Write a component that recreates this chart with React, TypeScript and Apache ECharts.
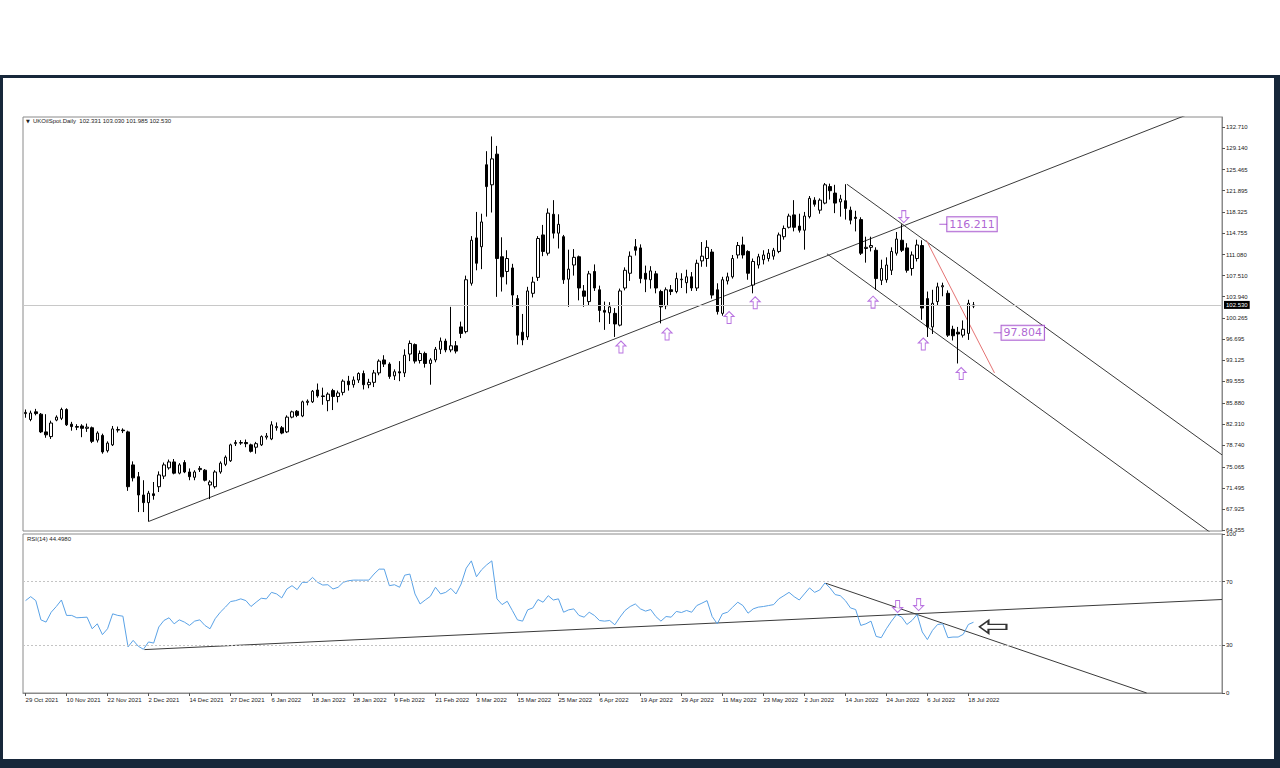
import React, { useEffect, useRef } from 'react';
import * as echarts from 'echarts';

// ---------- data ----------
const START_DATE = '2021-10-29';
const SKIPPED_DATES = ['2021-12-24', '2022-04-15'];
const FUTURE_SLOTS = 48;
const DATE_LABEL_STEP = 8;
const MONTHS = ['Jan', 'Feb', 'Mar', 'Apr', 'May', 'Jun', 'Jul', 'Aug', 'Sep', 'Oct', 'Nov', 'Dec'];

// open, close, low, high
const CANDLES: [number, number, number, number][] = [
  [84.1, 84.3, 83.4, 84.8], [83.1, 84.2, 82.8, 84.6], [84.4, 84.1, 83.8, 84.9], [84.0, 81.0, 80.8, 84.2],
  [81.0, 80.5, 80.0, 84.0], [80.2, 82.5, 79.8, 82.9], [83.0, 83.5, 82.8, 83.8], [83.3, 84.8, 83.0, 85.1],
  [84.8, 82.2, 82.0, 85.0], [82.3, 81.9, 81.2, 82.7], [81.9, 81.8, 81.3, 82.3], [82.0, 81.6, 80.1, 82.3],
  [81.6, 81.8, 81.0, 82.4], [81.7, 79.4, 79.1, 81.9], [79.6, 80.8, 79.2, 81.1], [80.4, 77.6, 77.3, 80.7],
  [77.8, 79.1, 77.5, 79.4], [78.8, 81.5, 78.6, 82.0], [81.3, 81.4, 80.9, 81.9], [81.3, 81.2, 80.8, 81.6],
  [81.0, 71.7, 71.0, 81.2], [75.4, 73.2, 72.6, 76.0], [73.4, 70.3, 67.4, 74.2], [70.3, 69.0, 67.4, 72.8],
  [69.0, 70.6, 65.8, 71.0], [70.5, 70.2, 69.5, 72.5], [71.7, 73.7, 70.8, 74.3], [73.5, 75.4, 73.0, 75.8],
  [74.9, 75.9, 74.6, 76.3], [75.9, 74.0, 73.8, 76.4], [74.0, 75.4, 73.8, 75.7], [75.8, 74.2, 74.0, 76.2],
  [74.2, 73.4, 72.8, 74.8], [73.3, 74.2, 72.8, 74.5], [74.6, 74.8, 74.2, 75.2], [74.5, 72.8, 72.6, 74.7],
  [72.0, 72.5, 69.6, 72.8], [71.7, 74.2, 71.4, 74.5], [74.2, 75.7, 73.9, 76.0], [75.5, 76.7, 75.2, 77.0],
  [76.1, 78.8, 75.9, 79.0], [79.0, 79.2, 78.6, 79.6], [79.1, 79.2, 78.8, 79.6], [79.2, 79.0, 78.4, 79.7],
  [78.8, 77.7, 77.5, 79.0], [78.4, 79.0, 77.3, 79.3], [78.8, 80.2, 78.6, 80.4], [80.1, 80.3, 79.7, 80.8],
  [79.8, 82.2, 79.6, 82.8], [81.7, 81.9, 81.2, 82.6], [81.7, 80.8, 80.6, 82.0], [81.0, 83.5, 80.8, 83.8],
  [83.5, 84.4, 83.3, 84.6], [84.5, 83.8, 83.5, 84.7], [83.7, 86.1, 83.5, 86.3], [86.0, 86.2, 85.5, 86.5],
  [86.1, 87.9, 85.9, 88.1], [88.1, 87.1, 86.8, 89.2], [87.1, 87.0, 85.6, 88.5], [86.3, 87.4, 84.5, 87.7],
  [88.0, 87.0, 84.7, 88.3], [87.0, 87.6, 86.0, 88.0], [87.7, 89.6, 87.2, 89.9], [89.6, 89.0, 88.0, 90.5],
  [89.0, 89.8, 88.5, 90.4], [89.8, 90.9, 89.3, 91.1], [90.9, 89.0, 88.2, 91.4], [89.0, 89.4, 88.4, 90.0],
  [89.4, 91.0, 88.6, 91.5], [91.0, 93.0, 90.6, 93.3], [93.2, 92.5, 92.0, 94.0], [92.5, 90.4, 90.0, 92.8],
  [90.5, 91.2, 89.8, 91.6], [91.2, 91.0, 89.6, 93.0], [91.0, 94.0, 90.3, 95.0], [94.2, 96.0, 93.0, 96.5],
  [95.8, 93.0, 92.6, 96.0], [93.1, 94.3, 92.6, 94.8], [94.3, 92.6, 91.9, 94.6], [92.6, 93.2, 89.0, 93.5],
  [93.2, 95.0, 92.8, 95.4], [95.0, 96.4, 94.2, 97.0], [96.4, 94.9, 94.5, 96.8], [94.9, 95.6, 94.5, 102.2],
  [95.6, 94.7, 94.3, 96.4], [98.8, 97.7, 96.9, 99.7], [98.0, 106.8, 97.7, 107.5], [106.2, 113.5, 105.8, 114.2],
  [113.9, 109.6, 108.4, 118.3], [112.4, 116.6, 108.6, 118.0], [126.3, 122.6, 117.5, 128.6], [122.9, 127.3, 118.2, 131.1],
  [128.1, 110.4, 103.9, 129.5], [110.7, 107.3, 104.8, 114.0], [108.2, 110.4, 106.0, 111.8], [108.8, 104.2, 102.2, 109.5],
  [103.6, 97.4, 95.8, 104.2], [97.9, 96.6, 95.7, 101.0], [97.1, 104.9, 96.6, 105.6], [104.5, 106.4, 103.8, 107.3],
  [107.2, 113.8, 106.6, 114.2], [114.4, 111.6, 110.8, 116.1], [111.3, 118.1, 110.9, 118.9], [117.9, 114.7, 113.8, 120.3],
  [114.7, 116.2, 112.1, 117.9], [114.1, 106.8, 106.1, 114.4], [106.9, 108.6, 102.2, 111.9], [109.3, 110.6, 107.5, 112.0],
  [110.7, 105.4, 103.3, 110.9], [104.9, 104.0, 102.2, 105.9], [103.1, 107.8, 102.5, 108.3], [108.2, 105.4, 104.9, 109.4],
  [105.1, 101.6, 99.6, 105.8], [101.6, 101.3, 98.3, 103.1], [101.2, 102.2, 99.3, 103.0], [101.1, 99.3, 97.1, 102.0],
  [99.1, 104.9, 98.9, 105.3], [105.4, 108.4, 105.0, 108.9], [107.9, 110.8, 106.6, 111.6], [112.4, 111.8, 110.9, 113.7],
  [112.2, 107.0, 106.2, 112.8], [107.9, 106.9, 104.7, 109.2], [106.8, 108.3, 105.3, 109.1], [107.8, 105.4, 104.5, 108.3],
  [104.8, 102.2, 99.4, 105.1], [102.4, 105.1, 101.8, 105.5], [105.1, 104.8, 104.2, 105.9], [104.8, 107.0, 104.5, 108.0],
  [106.8, 106.9, 105.4, 107.9], [106.3, 107.3, 104.5, 108.5], [107.3, 105.4, 104.9, 108.1], [105.4, 109.6, 104.9, 110.2],
  [110.0, 110.8, 109.0, 113.2], [110.4, 112.3, 109.0, 113.5], [111.5, 104.2, 103.6, 112.0], [105.1, 101.4, 100.9, 106.2],
  [101.1, 106.8, 100.7, 107.3], [106.6, 107.3, 106.0, 108.0], [107.3, 110.4, 107.0, 111.0], [111.0, 112.6, 110.4, 113.2],
  [112.7, 111.0, 110.4, 114.1], [111.6, 107.9, 106.8, 111.8], [105.9, 109.9, 104.5, 110.4], [109.3, 110.7, 108.7, 111.2],
  [110.2, 111.0, 109.4, 111.8], [110.4, 111.3, 109.9, 112.0], [110.8, 111.8, 110.2, 112.2], [111.6, 114.4, 111.3, 114.8],
  [114.1, 115.5, 113.6, 116.0], [115.7, 117.6, 115.5, 118.0], [117.8, 115.7, 115.0, 120.3], [115.9, 115.2, 114.8, 118.0],
  [115.2, 117.6, 111.9, 118.3], [117.5, 120.6, 117.2, 121.0], [120.3, 119.6, 119.2, 120.8], [118.6, 120.3, 118.0, 120.6],
  [119.8, 122.9, 119.6, 123.2], [122.6, 121.9, 120.4, 123.1], [121.5, 119.8, 118.1, 122.9], [120.0, 120.5, 117.5, 121.2],
  [120.2, 118.9, 117.0, 123.0], [118.6, 116.9, 116.2, 119.2], [117.4, 117.2, 115.0, 118.5], [117.0, 111.3, 111.0, 117.4],
  [112.1, 112.3, 109.7, 114.1], [112.3, 112.6, 111.6, 114.1], [111.8, 107.0, 105.1, 112.3], [106.7, 108.7, 105.9, 110.2],
  [106.8, 109.3, 106.3, 110.6], [108.4, 111.6, 107.6, 112.3], [111.3, 113.7, 110.9, 114.9], [113.5, 111.8, 111.5, 116.2],
  [112.2, 108.4, 108.0, 113.0], [108.7, 111.0, 107.5, 111.6], [110.4, 112.7, 109.9, 113.6], [112.6, 102.0, 100.0, 113.5],
  [103.6, 98.8, 97.1, 104.8], [98.8, 102.8, 97.6, 105.1], [103.1, 105.6, 102.5, 106.3], [105.6, 105.8, 104.0, 106.3],
  [104.5, 97.4, 97.1, 105.0], [98.4, 97.3, 96.5, 99.0], [97.9, 97.6, 92.6, 98.8], [97.4, 98.4, 97.0, 99.9],
  [97.7, 102.8, 96.6, 103.4], [102.331, 102.53, 101.985, 103.03],
];

const RSI_VALUES = [
  58.1, 60.6, 58.1, 46.0, 44.6, 50.8, 54.4, 58.5, 48.8, 48.8, 47.3, 47.5, 47.7, 40.4, 43.5, 36.7,
  40.4, 49.8, 48.8, 48.3, 29.0, 33.1, 29.4, 27.5, 32.1, 31.4, 41.5, 45.6, 47.3, 43.5, 46.0, 44.6,
  42.5, 45.2, 46.0, 42.5, 40.4, 46.7, 50.8, 54.0, 57.5, 58.1, 59.2, 58.1, 54.4, 57.1, 59.6, 59.2,
  63.3, 62.3, 59.8, 65.4, 67.5, 65.0, 69.6, 69.6, 72.7, 69.6, 67.9, 68.1, 65.4, 66.5, 69.6, 70.6,
  71.0, 71.0, 71.0, 71.0, 74.8, 77.9, 77.9, 67.5, 68.1, 66.5, 74.1, 74.8, 62.3, 56.0, 58.5, 60.8,
  66.5, 62.3, 63.3, 65.8, 62.3, 68.5, 78.5, 83.1, 73.1, 77.5, 80.6, 83.1, 59.2, 55.6, 57.7, 51.9,
  46.0, 45.2, 52.3, 53.5, 58.8, 57.1, 61.2, 58.5, 59.2, 50.8, 52.3, 52.9, 48.8, 47.7, 50.8, 48.8,
  45.6, 45.2, 45.6, 42.9, 47.7, 51.9, 54.4, 56.0, 52.9, 51.5, 52.5, 48.1, 45.2, 48.1, 47.7, 51.3,
  50.6, 51.9, 50.8, 55.0, 56.5, 58.1, 48.1, 43.5, 49.8, 50.8, 54.0, 57.1, 55.0, 50.2, 52.9, 54.0,
  54.4, 55.0, 55.6, 59.2, 61.2, 63.3, 60.6, 58.5, 62.3, 66.1, 63.3, 64.8, 69.2, 66.1, 61.9, 61.2,
  58.1, 53.5, 52.5, 42.5, 43.5, 45.2, 35.6, 34.8, 40.4, 45.2, 49.4, 47.7, 43.1, 45.6, 49.4, 38.4,
  33.6, 39.4, 43.1, 43.5, 34.8, 35.2, 35.2, 36.9, 43.1, 44.5,
];

const PRICE_TICKS = [64.355, 67.925, 71.495, 75.065, 78.74, 82.31, 85.88, 89.555, 93.125, 96.695,
  100.265, 103.94, 107.51, 111.08, 114.755, 118.325, 121.895, 125.465, 129.14, 132.71];
const RSI_TICKS = [0, 30, 70, 100];
const RSI_LEVELS = [30, 70];
const LAST_PRICE = 102.53;
const SYMBOL_NAME = 'UKOilSpot.Daily';
const OHLC_TEXT = ['102.331', '103.030', '101.985', '102.530'];
const RSI_TITLE = 'RSI(14) 44.4980';

const PRICE_TRENDLINES: number[][][] = [
  [[24, 65.8], [233.5, 137.1]],
  [[160.3, 123.0], [233.5, 77.1]],
  [[156.4, 111.2], [233.5, 62.5]],
];
const RED_LINE: number[][] = [[175.8, 113.5], [189.1, 91.0]];
const RSI_TRENDLINES: number[][][] = [
  [[23.2, 27.3], [233.5, 58.8]],
  [[156.2, 69.0], [218.8, 0]],
];
const UP_ARROWS = [[116.2, 95.4], [125.2, 97.6], [137.3, 100.4], [142.4, 102.9], [165.4, 103.0], [175.2, 95.9], [182.6, 90.9]];
const DOWN_ARROWS = [[171.4, 117.5]];
const RSI_DOWN_ARROWS = [[170.2, 54.4], [174.3, 55.6]];
const RSI_LEFT_ARROW = [[188.8, 41.6]];
const PRICE_LABELS = [[179.1, 116.211], [189.7, 97.804]];

// ---------- helpers ----------
function buildDates(count: number): string[] {
  const out: string[] = [];
  const d = new Date(START_DATE + 'T00:00:00Z');
  while (out.length < count) {
    const iso = d.toISOString().slice(0, 10);
    const wd = d.getUTCDay();
    if (wd !== 0 && wd !== 6 && !SKIPPED_DATES.includes(iso)) {
      out.push(`${d.getUTCDate()} ${MONTHS[d.getUTCMonth()]} ${d.getUTCFullYear()}`);
    }
    d.setUTCDate(d.getUTCDate() + 1);
  }
  return out;
}

const FONT = '"Liberation Sans", Arial, sans-serif';
const PURPLE = '#a64fd8';
const LABEL_PURPLE = '#9a3cc8';
const UP_PATH = 'path://M5 0L10 5L7 5L7 12L3 12L3 5L0 5Z';
const DOWN_PATH = 'path://M3 0L7 0L7 7L10 7L5 12L0 7L3 7Z';
const LEFT_PATH = 'path://M0 6.5L9 0L9 4L27 4L27 9L9 9L9 13Z';

export default function App() {
  const ref = useRef<HTMLDivElement>(null);

  useEffect(() => {
    if (!ref.current) return;
    const chart = echarts.init(ref.current, undefined, { renderer: 'svg' });
    const n = CANDLES.length;
    const dates = buildDates(n);
    const xMax = n + FUTURE_SLOTS - 0.5;
    const dateTicks: number[] = [];
    for (let i = 0; i < n; i += DATE_LABEL_STEP) dateTicks.push(i);

    const lineSeries = (data: number[][], color: string, xi: number, width = 1) => ({
      type: 'line',
      xAxisIndex: xi,
      yAxisIndex: xi,
      data,
      showSymbol: false,
      symbol: 'none',
      clip: true,
      silent: true,
      lineStyle: { color, width },
      z: 3,
    });

    const option: any = {
      animation: false,
      backgroundColor: 'transparent',
      grid: [
        { left: 23, top: 117, width: 1199, height: 414, show: true, borderColor: '#8a8a8a', borderWidth: 1, backgroundColor: '#fff' },
        { left: 23, top: 534, width: 1199, height: 159, show: true, borderColor: '#8a8a8a', borderWidth: 1, backgroundColor: '#fff' },
      ],
      xAxis: [
        {
          type: 'value', gridIndex: 0, min: -0.5, max: xMax,
          axisLine: { show: false, onZero: false }, axisTick: { show: false }, axisLabel: { show: false }, splitLine: { show: false },
        },
        {
          type: 'value', gridIndex: 1, min: -0.5, max: xMax,
          axisLine: { show: true, onZero: false, lineStyle: { color: '#8a8a8a' } },
          axisTick: { show: true, customValues: dateTicks, length: 3, lineStyle: { color: '#555' } },
          axisLabel: {
            show: true, customValues: dateTicks, fontSize: 6, fontFamily: FONT, color: '#222', align: 'left', margin: 4,
            formatter: (v: number) => dates[Math.round(v)] ?? '',
          },
          splitLine: { show: false },
        },
      ],
      yAxis: [
        {
          type: 'value', gridIndex: 0, position: 'right', min: 64.19, max: 134.4,
          axisLine: { show: true, onZero: false, lineStyle: { color: '#8a8a8a' } },
          axisTick: { show: true, customValues: PRICE_TICKS, length: 3, lineStyle: { color: '#555' } },
          axisLabel: {
            show: true, customValues: PRICE_TICKS, fontSize: 6, fontFamily: FONT, color: '#222', margin: 4,
            formatter: (v: number) => v.toFixed(3),
          },
          splitLine: { show: false },
        },
        {
          type: 'value', gridIndex: 1, position: 'right', min: 0, max: 100,
          axisLine: { show: true, onZero: false, lineStyle: { color: '#8a8a8a' } },
          axisTick: { show: true, customValues: RSI_TICKS, length: 3, lineStyle: { color: '#555' } },
          axisLabel: {
            show: true, customValues: RSI_TICKS, fontSize: 6, fontFamily: FONT, color: '#222', margin: 4,
            formatter: (v: number) => String(Math.round(v)),
          },
          splitLine: { show: false },
        },
      ],
      graphic: [
        { type: 'text', left: 26, top: 118, style: { text: '▼', fontSize: 5, fontFamily: 'DejaVu Sans', fill: '#222' } },
        { type: 'text', left: 33, top: 118, style: { text: `${SYMBOL_NAME}  ${OHLC_TEXT.join(' ')}`, fontSize: 6, fontFamily: FONT, fill: '#222' } },
        { type: 'text', left: 27, top: 536, style: { text: RSI_TITLE, fontSize: 6, fontFamily: FONT, fill: '#222' } },
      ],
      series: [
        ...PRICE_TRENDLINES.map((l) => lineSeries(l, '#3a3a3a', 0)),
        lineSeries(RED_LINE, '#e57373', 0),
        {
          type: 'candlestick',
          xAxisIndex: 0,
          yAxisIndex: 0,
          data: CANDLES.map((c, i) => [i, c[0], c[1], c[2], c[3]]),
          encode: { x: 0, y: [1, 2, 3, 4] },
          barWidth: 3,
          z: 4,
          itemStyle: { color: '#ffffff', color0: '#000000', borderColor: '#000000', borderColor0: '#000000', borderWidth: 1 },
          markLine: {
            silent: true,
            symbol: ['none', 'none'],
            lineStyle: { color: '#c8c8c8', width: 1, type: 'solid' },
            label: {
              show: true, position: 'end', distance: 2, formatter: LAST_PRICE.toFixed(3),
              backgroundColor: '#000', color: '#fff', fontSize: 6, fontFamily: FONT, padding: [1, 2, 1, 2],
            },
            data: [{ yAxis: LAST_PRICE }],
          },
        },
        {
          type: 'scatter', xAxisIndex: 0, yAxisIndex: 0, data: UP_ARROWS, symbol: UP_PATH, symbolSize: [10, 12],
          itemStyle: { color: '#fff', borderColor: PURPLE, borderWidth: 1 }, z: 6, silent: true,
        },
        {
          type: 'scatter', xAxisIndex: 0, yAxisIndex: 0, data: DOWN_ARROWS, symbol: DOWN_PATH, symbolSize: [10, 12],
          itemStyle: { color: '#fff', borderColor: PURPLE, borderWidth: 1 }, z: 6, silent: true,
        },
        {
          type: 'scatter', xAxisIndex: 0, yAxisIndex: 0, data: PRICE_LABELS, symbol: 'rect', symbolSize: [8, 1],
          itemStyle: { color: LABEL_PURPLE }, z: 6, silent: true,
          label: {
            show: true, position: 'right', distance: 0,
            formatter: (p: any) => p.value[1].toFixed(3).replace(/0+$/, '').replace(/\.$/, ''),
            fontSize: 11, fontFamily: 'DejaVu Sans', color: LABEL_PURPLE, backgroundColor: '#fff',
            borderColor: LABEL_PURPLE, borderWidth: 1, padding: [2, 2, 1, 2],
          },
        },
        {
          type: 'line', xAxisIndex: 1, yAxisIndex: 1,
          data: RSI_VALUES.map((v, i) => [i, v]),
          showSymbol: false, symbol: 'none', silent: true, z: 4,
          lineStyle: { color: '#5aa2e6', width: 1 },
          markLine: {
            silent: true, symbol: ['none', 'none'], label: { show: false },
            lineStyle: { color: '#c4c4c4', width: 1, type: [2, 2] },
            data: RSI_LEVELS.map((v) => ({ yAxis: v })),
          },
        },
        ...RSI_TRENDLINES.map((l) => lineSeries(l, '#3a3a3a', 1)),
        {
          type: 'scatter', xAxisIndex: 1, yAxisIndex: 1, data: RSI_DOWN_ARROWS, symbol: DOWN_PATH, symbolSize: [10, 12],
          itemStyle: { color: '#fff', borderColor: PURPLE, borderWidth: 1 }, z: 6, silent: true,
        },
        {
          type: 'scatter', xAxisIndex: 1, yAxisIndex: 1, data: RSI_LEFT_ARROW, symbol: LEFT_PATH, symbolSize: [27, 13],
          itemStyle: { color: '#fff', borderColor: '#000', borderWidth: 1.5 }, z: 6, silent: true,
        },
      ],
    };

    chart.setOption(option);
    return () => chart.dispose();
  }, []);

  const frame = '#17273a';
  return (
    <div style={{ position: 'fixed', left: 0, top: 0, width: 1280, height: 768, background: '#fff', overflow: 'hidden' }}>
      <div
        style={{
          position: 'absolute', left: 0, top: 75, width: 1280, height: 693, boxSizing: 'border-box',
          borderTop: `3px solid ${frame}`, borderLeft: `3px solid ${frame}`, borderRight: `6px solid ${frame}`,
          borderBottom: `9px solid ${frame}`, background: '#fff',
        }}
      />
      <div ref={ref} style={{ position: 'absolute', left: 0, top: 0, width: 1280, height: 768 }} />
    </div>
  );
}
